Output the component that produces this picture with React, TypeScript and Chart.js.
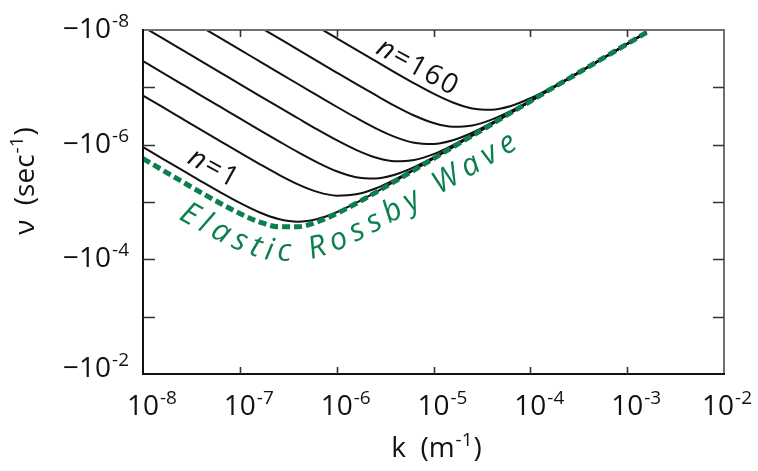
import React, { useEffect, useRef } from 'react';
import { Chart, registerables } from 'chart.js';

Chart.register(...registerables);

// wavenumber k (m^-1), every 0.2 decade
const kValues = [
  1e-8, 1.585e-8, 2.512e-8, 3.981e-8, 6.31e-8,
  1e-7, 1.585e-7, 2.512e-7, 3.981e-7, 6.31e-7,
  1e-6, 1.585e-6, 2.512e-6, 3.981e-6, 6.31e-6,
  1e-5, 1.585e-5, 2.512e-5, 3.981e-5, 6.31e-5,
  1e-4, 1.585e-4, 2.512e-4, 3.981e-4, 6.31e-4,
  1e-3, 1.585e-3,
];

// magnitude of the (negative) frequency nu (sec^-1)
const elasticRossby = [
  1.75e-6, 2.77e-6, 4.37e-6, 6.86e-6, 1.06e-5, 1.59e-5, 2.22e-5, 2.7e-5, 2.7e-5, 2.22e-5,
  1.59e-5, 1.06e-5, 6.86e-6, 4.37e-6, 2.77e-6, 1.75e-6, 1.1e-6, 6.97e-7, 4.4e-7, 2.77e-7,
  1.75e-7, 1.1e-7, 6.97e-8, 4.4e-8, 2.77e-8, 1.75e-8, 1.1e-8,
];
const modeN1 = [
  1.1e-6, 1.75e-6, 2.76e-6, 4.35e-6, 6.8e-6, 1.04e-5, 1.51e-5, 1.98e-5, 2.2e-5, 1.98e-5,
  1.51e-5, 1.04e-5, 6.8e-6, 4.35e-6, 2.76e-6, 1.75e-6, 1.1e-6, 6.97e-7, 4.4e-7, 2.77e-7,
  1.75e-7, 1.1e-7, 6.97e-8, 4.4e-8, 2.77e-8, 1.75e-8, 1.1e-8,
];
const modeN5 = [
  1.39e-7, 2.2e-7, 3.49e-7, 5.53e-7, 8.74e-7, 1.38e-6, 2.16e-6, 3.33e-6, 4.92e-6, 6.66e-6,
  7.75e-6, 7.35e-6, 5.81e-6, 4.07e-6, 2.69e-6, 1.73e-6, 1.1e-6, 6.95e-7, 4.39e-7, 2.77e-7,
  1.75e-7, 1.1e-7, 6.97e-8, 4.4e-8, 2.77e-8, 1.75e-8, 1.1e-8,
];
const modeN10 = [
  3.49e-8, 5.53e-8, 8.77e-8, 1.39e-7, 2.2e-7, 3.48e-7, 5.51e-7, 8.66e-7, 1.35e-6, 2.04e-6,
  2.91e-6, 3.69e-6, 3.88e-6, 3.34e-6, 2.46e-6, 1.67e-6, 1.08e-6, 6.91e-7, 4.38e-7, 2.77e-7,
  1.75e-7, 1.1e-7, 6.97e-8, 4.4e-8, 2.77e-8, 1.75e-8, 1.1e-8,
];
const modeN20 = [
  8.77e-9, 1.39e-8, 2.2e-8, 3.49e-8, 5.53e-8, 8.77e-8, 1.39e-7, 2.2e-7, 3.46e-7, 5.43e-7,
  8.35e-7, 1.23e-6, 1.67e-6, 1.95e-6, 1.85e-6, 1.46e-6, 1.02e-6, 6.75e-7, 4.34e-7, 2.76e-7,
  1.75e-7, 1.1e-7, 6.97e-8, 4.4e-8, 2.77e-8, 1.75e-8, 1.1e-8,
];
const modeN40 = [
  null, null, null, 8.77e-9, 1.39e-8, 2.2e-8, 3.49e-8, 5.53e-8, 8.75e-8, 1.38e-7,
  2.18e-7, 3.39e-7, 5.13e-7, 7.31e-7, 9.26e-7, 9.75e-7, 8.39e-7, 6.19e-7, 4.19e-7, 2.72e-7,
  1.74e-7, 1.1e-7, 6.96e-8, 4.4e-8, 2.77e-8, 1.75e-8, 1.1e-8,
];
const modeN80 = [
  null, null, null, null, null, null, 8.77e-9, 1.39e-8, 2.2e-8, 3.49e-8,
  5.52e-8, 8.7e-8, 1.36e-7, 2.1e-7, 3.1e-7, 4.2e-7, 4.89e-7, 4.64e-7, 3.66e-7, 2.57e-7,
  1.7e-7, 1.09e-7, 6.93e-8, 4.39e-8, 2.77e-8, 1.75e-8, 1.1e-8,
];
const modeN160 = [
  null, null, null, null, null, null, null, null, null, 8.77e-9,
  1.39e-8, 2.2e-8, 3.47e-8, 5.47e-8, 8.5e-8, 1.29e-7, 1.84e-7, 2.33e-7, 2.45e-7, 2.11e-7,
  1.55e-7, 1.05e-7, 6.83e-8, 4.36e-8, 2.77e-8, 1.75e-8, 1.1e-8,
];

const modeSeries = [modeN1, modeN5, modeN10, modeN20, modeN40, modeN80, modeN160];
const modeNames = ['n=1', 'n=5', 'n=10', 'n=20', 'n=40', 'n=80', 'n=160'];
const greenLabel = 'Elastic Rossby Wave';

const xTickExps = [-8, -7, -6, -5, -4, -3, -2];
const yTickExps = [-8, -7, -6, -5, -4, -3, -2];
const yLabelExps = [-8, -6, -4, -2];

const FONT = '"Open Sans", "DejaVu Sans", sans-serif';
const GREEN = '#0c7f4e';

type Run = { t: string; size: number; italic?: boolean; rise?: number; gap?: number };

function setFont(ctx: CanvasRenderingContext2D, r: Run) {
  ctx.font = `${r.italic ? 'italic ' : ''}${r.size}px ${FONT}`;
}
function runsWidth(ctx: CanvasRenderingContext2D, runs: Run[]) {
  let w = 0;
  for (const r of runs) {
    setFont(ctx, r);
    w += ctx.measureText(r.t).width + (r.gap || 0);
  }
  return w;
}
function drawRuns(ctx: CanvasRenderingContext2D, runs: Run[], x: number, y: number) {
  ctx.textAlign = 'left';
  ctx.textBaseline = 'alphabetic';
  let cx = x;
  for (const r of runs) {
    setFont(ctx, r);
    ctx.fillText(r.t, cx, y - (r.rise || 0));
    cx += ctx.measureText(r.t).width + (r.gap || 0);
  }
}

function densePath(meta: any) {
  const pts = meta.data.filter((p: any) => !p.skip);
  const out: { x: number; y: number }[] = [];
  for (let i = 0; i < pts.length - 1; i++) {
    const a = pts[i], b = pts[i + 1];
    const c1x = a.cp2x ?? a.x, c1y = a.cp2y ?? a.y, c2x = b.cp1x ?? b.x, c2y = b.cp1y ?? b.y;
    for (let j = 0; j < 16; j++) {
      const t = j / 16, m = 1 - t;
      out.push({
        x: m * m * m * a.x + 3 * m * m * t * c1x + 3 * m * t * t * c2x + t * t * t * b.x,
        y: m * m * m * a.y + 3 * m * m * t * c1y + 3 * m * t * t * c2y + t * t * t * b.y,
      });
    }
  }
  const last = pts[pts.length - 1];
  out.push({ x: last.x, y: last.y });
  return out;
}

function textOnPath(ctx: CanvasRenderingContext2D, base: { x: number; y: number }[], text: string,
  offset: number, startX: number, spacing: number, font: string, color: string) {
  const q: { x: number; y: number; s: number }[] = [];
  for (let i = 0; i < base.length; i++) {
    const a = base[Math.max(0, i - 1)], b = base[Math.min(base.length - 1, i + 1)];
    let tx = b.x - a.x, ty = b.y - a.y;
    const n = Math.hypot(tx, ty) || 1;
    tx /= n; ty /= n;
    q.push({ x: base[i].x - ty * offset, y: base[i].y + tx * offset, s: 0 });
  }
  for (let i = 1; i < q.length; i++) q[i].s = q[i - 1].s + Math.hypot(q[i].x - q[i - 1].x, q[i].y - q[i - 1].y);
  const at = (d: number) => {
    for (let i = 1; i < q.length; i++) {
      if (q[i].s >= d) {
        const a = q[i - 1], b = q[i];
        const t = (d - a.s) / ((b.s - a.s) || 1);
        return { x: a.x + (b.x - a.x) * t, y: a.y + (b.y - a.y) * t };
      }
    }
    return { x: q[q.length - 1].x, y: q[q.length - 1].y };
  };
  const st = q.find((p) => p.x >= startX);
  let cur = st ? st.s : 0;
  ctx.font = font;
  ctx.fillStyle = color;
  ctx.textAlign = 'center';
  ctx.textBaseline = 'alphabetic';
  for (const ch of text) {
    const w = ctx.measureText(ch).width;
    if (ch !== ' ') {
      const a = at(cur), b = at(cur + w);
      ctx.save();
      ctx.translate((a.x + b.x) / 2, (a.y + b.y) / 2);
      ctx.rotate(Math.atan2(b.y - a.y, b.x - a.x));
      ctx.fillText(ch, 0, 0);
      ctx.restore();
    }
    cur += w + spacing;
  }
}

function drawModeLabel(ctx: CanvasRenderingContext2D, label: string, cx: number, cy: number, angleDeg: number) {
  const runs: Run[] = [];
  const chars = Array.from(label);
  chars.forEach((c, i) => runs.push({ t: c, size: 28, italic: c === 'n', gap: i < chars.length - 1 ? 2 : 0 }));
  const w = runsWidth(ctx, runs);
  ctx.save();
  ctx.translate(cx, cy);
  ctx.rotate((angleDeg * Math.PI) / 180);
  ctx.fillStyle = '#111';
  drawRuns(ctx, runs, -w / 2, 10);
  ctx.restore();
}

const decorPlugin = {
  id: 'decor',
  afterDatasetsDraw(chart: any) {
    const ctx: CanvasRenderingContext2D = chart.ctx;
    const { left, right, top, bottom } = chart.chartArea;
    const xs = chart.scales.x, ys = chart.scales.y;
    ctx.save();

    // frame
    ctx.lineWidth = 2;
    ctx.strokeStyle = '#707070';
    ctx.beginPath();
    ctx.moveTo(left, top); ctx.lineTo(right, top); ctx.lineTo(right, bottom);
    ctx.stroke();
    ctx.strokeStyle = '#111';
    ctx.beginPath();
    ctx.moveTo(left, top - 1); ctx.lineTo(left, bottom); ctx.lineTo(right + 1, bottom);
    ctx.stroke();

    // inward ticks
    ctx.lineWidth = 1.6;
    ctx.strokeStyle = '#333';
    for (const e of xTickExps) {
      const px = Math.round(xs.getPixelForValue(Math.pow(10, e))) + 0.5;
      if (px <= left + 2 || px >= right - 2) continue;
      ctx.beginPath();
      ctx.moveTo(px, bottom); ctx.lineTo(px, bottom - 7);
      ctx.moveTo(px, top); ctx.lineTo(px, top + 7);
      ctx.stroke();
    }
    for (const e of yTickExps) {
      const py = Math.round(ys.getPixelForValue(Math.pow(10, e))) + 0.5;
      if (py <= top + 2 || py >= bottom - 2) continue;
      ctx.beginPath();
      ctx.moveTo(left, py); ctx.lineTo(left + 12, py);
      ctx.moveTo(right, py); ctx.lineTo(right - 11, py);
      ctx.stroke();
    }

    // tick labels
    ctx.fillStyle = '#111';
    for (const e of xTickExps) {
      const px = xs.getPixelForValue(Math.pow(10, e));
      const runs: Run[] = [{ t: '10', size: 28, gap: 1 }, { t: String(e), size: 19, rise: 11 }];
      setFont(ctx, runs[0]);
      const w10 = ctx.measureText('10').width;
      const wt = runsWidth(ctx, runs);
      let x0 = px - w10 / 2;
      if (x0 + wt > chart.width - 6) x0 = chart.width - 6 - wt;
      drawRuns(ctx, runs, x0, bottom + 41);
    }
    for (const e of yLabelExps) {
      const py = ys.getPixelForValue(Math.pow(10, e));
      const runs: Run[] = [{ t: '\u221210', size: 28, gap: 1 }, { t: String(e), size: 19, rise: 11 }];
      const wt = runsWidth(ctx, runs);
      drawRuns(ctx, runs, left - 14 - wt, Math.min(py + 8, bottom + 3));
    }

    // axis titles
    const xt: Run[] = [{ t: 'k  (m', size: 28, gap: 1 }, { t: '-1', size: 19, rise: 11, gap: 1 }, { t: ')', size: 28 }];
    const xw = runsWidth(ctx, xt);
    drawRuns(ctx, xt, (left + right) / 2 + 3 - xw / 2, bottom + 83);
    const yt: Run[] = [{ t: '\u03bd  (sec', size: 28, gap: 1 }, { t: '-1', size: 19, rise: 11, gap: 1 }, { t: ')', size: 28 }];
    const yw = runsWidth(ctx, yt);
    ctx.save();
    ctx.translate(34, 181);
    ctx.rotate(-Math.PI / 2);
    drawRuns(ctx, yt, -yw / 2, 0);
    ctx.restore();

    // curve labels
    const l1 = { x: xs.getPixelForValue(Math.pow(10, -7.267)), y: ys.getPixelForValue(Math.pow(10, -5.622)) };
    drawModeLabel(ctx, modeNames[0], l1.x, l1.y, 29);
    const l2 = { x: xs.getPixelForValue(Math.pow(10, -5.159)), y: ys.getPixelForValue(Math.pow(10, -7.382)) };
    drawModeLabel(ctx, modeNames[6], l2.x, l2.y, 29);

    // Elastic Rossby Wave label along the dashed curve
    const path = densePath(chart.getDatasetMeta(0));
    textOnPath(ctx, path, greenLabel, 34, 178, 6, `italic 31px ${FONT}`, GREEN);

    ctx.restore();
  },
};

export default function App() {
  const ref = useRef<HTMLCanvasElement>(null);
  useEffect(() => {
    const toPts = (arr: (number | null)[]) => kValues.map((k, i) => ({ x: k, y: arr[i] }));
    const datasets: any[] = [
      {
        label: greenLabel,
        data: toPts(elasticRossby),
        borderColor: GREEN,
        borderWidth: 5,
        borderDash: [8, 4],
        pointRadius: 0,
        cubicInterpolationMode: 'monotone',
        order: 0,
      },
      ...modeSeries.map((s, i) => ({
        label: modeNames[i],
        data: toPts(s),
        borderColor: '#111',
        borderWidth: 2,
        pointRadius: 0,
        cubicInterpolationMode: 'monotone',
        spanGaps: false,
        order: 1,
      })),
    ];
    const chart = new Chart(ref.current as HTMLCanvasElement, {
      type: 'line',
      data: { datasets },
      options: {
        responsive: false,
        animation: false,
        devicePixelRatio: 1,
        layout: { padding: { left: 143, right: 34, top: 30, bottom: 97 } },
        plugins: { legend: { display: false }, tooltip: { enabled: false } },
        scales: {
          x: { type: 'logarithmic', min: 1e-8, max: 1e-2, display: false },
          y: { type: 'logarithmic', min: 1e-8, max: 1e-2, reverse: true, display: false },
        },
      } as any,
      plugins: [decorPlugin],
    });
    return () => chart.destroy();
  }, []);
  return (
    <div style={{ position: 'fixed', left: 0, top: 0, width: 758, height: 471, background: '#fff' }}>
      <canvas ref={ref} width={758} height={471} style={{ display: 'block', width: 758, height: 471 }} />
    </div>
  );
}
